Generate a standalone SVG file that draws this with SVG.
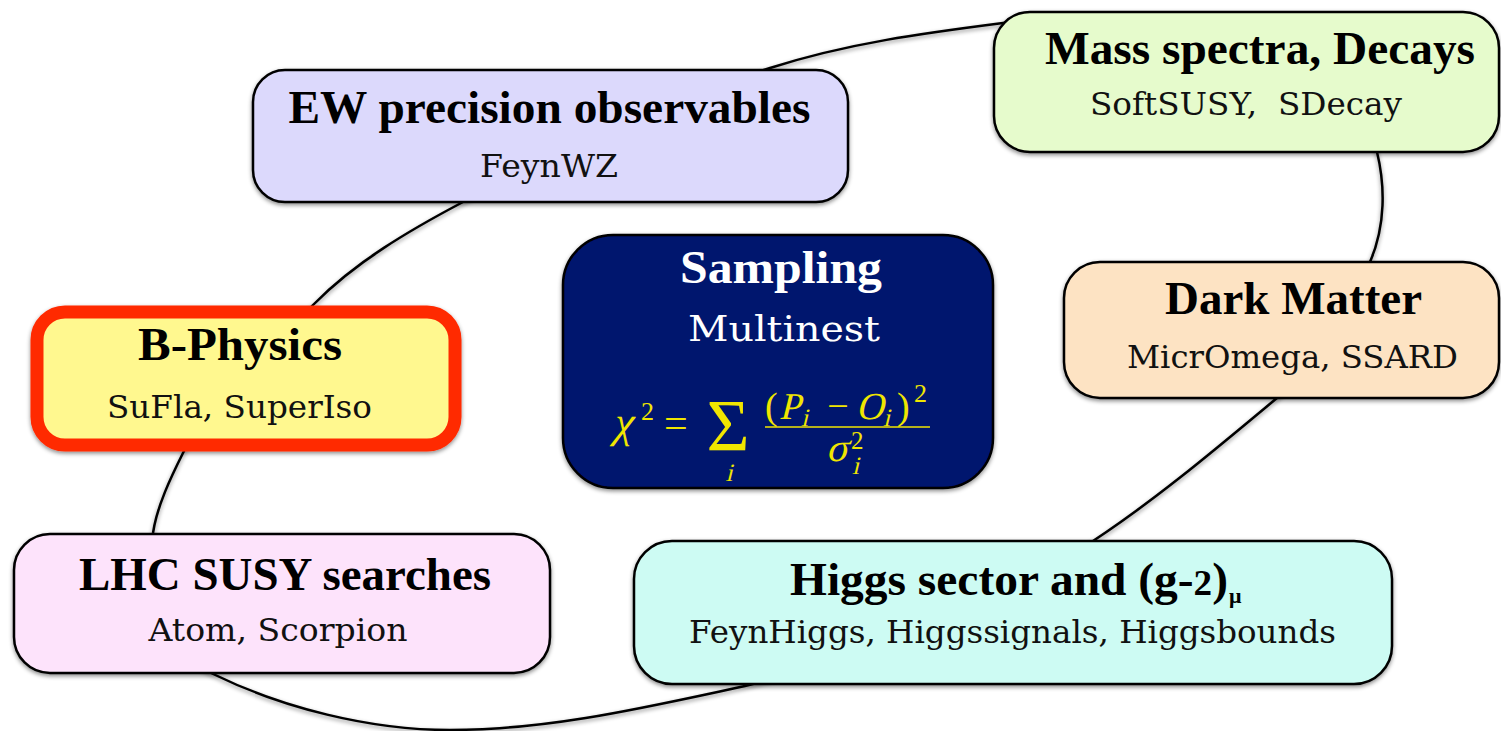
<svg xmlns="http://www.w3.org/2000/svg" width="1501" height="731" viewBox="0 0 1501 731">
<defs>
<style>
.box{stroke:#000;stroke-width:2.5;filter:url(#sh)}
.title{font-family:"Liberation Serif","Times New Roman",serif;font-weight:bold;font-size:46px;text-anchor:middle;fill:#000}
.sub{font-family:"DejaVu Serif","Liberation Serif",serif;font-size:32px;text-anchor:middle;fill:#111}
.math text{font-family:"Liberation Serif","Times New Roman",serif;fill:#f0e600}
.loop{fill:none;stroke:#000;stroke-width:2.5;filter:url(#sh)}
</style>
<filter id="sh" x="-10%" y="-10%" width="120%" height="130%">
<feDropShadow dx="0" dy="2" stdDeviation="2" flood-color="#000" flood-opacity="0.45"/>
</filter>
</defs>
<rect width="1501" height="731" fill="#fff"/>
<g id="connectors">
<path class="loop" d="M463,202 C551,155 670,100 770,68 C848,43 925,33 1003,23 C1090,13 1362,52 1377,152 C1385,185 1386,225 1370,262 C1360,307 1315,366 1277,398 C1217,448 1158,498 1093,541 C1010,595 850,660 745,686 C647,707 550,730 450,730 C370,730 282,708 211,673 C166,651 141,581 153,533 C157,506 171,477 183,453 C205,408 278,341 313,305 C355,262 410,230 463,202 Z"/>
</g>
<g id="ew">
<rect class="box" x="253" y="70" width="595" height="132" rx="32" fill="#dcd9fc"/>
<text class="title" x="549.5" y="123" textLength="522" lengthAdjust="spacingAndGlyphs">EW precision observables</text>
<text class="sub" x="549" y="177" textLength="138" lengthAdjust="spacingAndGlyphs">FeynWZ</text>
</g>
<g id="mass">
<rect class="box" x="994" y="12" width="505" height="140" rx="36" fill="#e6fbcc"/>
<text class="title" x="1260" y="64" textLength="430" lengthAdjust="spacingAndGlyphs">Mass spectra, Decays</text>
<text class="sub" x="1246" y="115" textLength="312" lengthAdjust="spacingAndGlyphs">SoftSUSY,&#160; SDecay</text>
</g>
<g id="darkmatter">
<rect class="box" x="1064" y="262" width="435" height="136" rx="36" fill="#fde3c3"/>
<text class="title" x="1293.5" y="314" textLength="257" lengthAdjust="spacingAndGlyphs">Dark Matter</text>
<text class="sub" x="1292.5" y="368" textLength="331" lengthAdjust="spacingAndGlyphs">MicrOmega, SSARD</text>
</g>
<g id="sampling">
<rect class="box" x="563" y="235" width="430" height="253" rx="50" fill="#02126e"/>
<text class="title" x="781" y="283" style="fill:#fff" textLength="202" lengthAdjust="spacingAndGlyphs">Sampling</text>
<text class="sub" x="784" y="341" style="fill:#fff;font-size:36px" textLength="192" lengthAdjust="spacingAndGlyphs">Multinest</text>
<g class="math">
<text transform="translate(612,437) skewX(-14)" font-size="44">χ</text>
<text x="641" y="420" font-size="26">2</text>
<text x="664" y="437" font-size="42">=</text>
<text x="728" y="451" font-size="74" text-anchor="middle">Σ</text>
<text transform="translate(729,481) skewX(-14)" font-size="25" text-anchor="middle">i</text>
<text x="765" y="419" font-size="38">(</text>
<text transform="translate(779,419) skewX(-14)" font-size="38">P</text>
<text transform="translate(801,426) skewX(-14)" font-size="25">i</text>
<text x="838" y="419" font-size="38" text-anchor="middle">−</text>
<text transform="translate(856,419) skewX(-14)" font-size="38">O</text>
<text transform="translate(883,426) skewX(-14)" font-size="25">i</text>
<text x="897" y="419" font-size="38">)</text>
<text x="914" y="402" font-size="26">2</text>
<line x1="765" y1="427" x2="930" y2="427" stroke="#f0e600" stroke-width="1.6"/>
<text transform="translate(826,461) skewX(-14)" font-size="40">σ</text>
<text x="851" y="449" font-size="25">2</text>
<text transform="translate(852,474) skewX(-14)" font-size="25">i</text>
</g>
</g>
<g id="bphysics">
<rect x="37" y="312" width="418" height="133" rx="28" fill="#fff88f" stroke="#ff2a00" stroke-width="13" filter="url(#sh)"/>
<text class="title" x="240" y="360" textLength="204" lengthAdjust="spacingAndGlyphs">B-Physics</text>
<text class="sub" x="239.5" y="418" textLength="265" lengthAdjust="spacingAndGlyphs">SuFla, SuperIso</text>
</g>
<g id="lhc">
<rect class="box" x="14" y="534" width="536" height="139" rx="36" fill="#fde3fb"/>
<text class="title" x="285" y="590" textLength="412" lengthAdjust="spacingAndGlyphs">LHC SUSY searches</text>
<text class="sub" x="278" y="641" textLength="259" lengthAdjust="spacingAndGlyphs">Atom, Scorpion</text>
</g>
<g id="higgs">
<rect class="box" x="634" y="541" width="758" height="143" rx="38" fill="#cdfbf3"/>
<text class="title" x="790" y="595" style="text-anchor:start" textLength="438" lengthAdjust="spacingAndGlyphs">Higgs sector and (g-<tspan style="font-size:36px">2</tspan>)</text>
<text class="title" x="1229" y="603" style="text-anchor:start;font-size:22px">μ</text>
<text class="sub" x="1012.5" y="643" textLength="647" lengthAdjust="spacingAndGlyphs">FeynHiggs, Higgssignals, Higgsbounds</text>
</g>
</svg>
